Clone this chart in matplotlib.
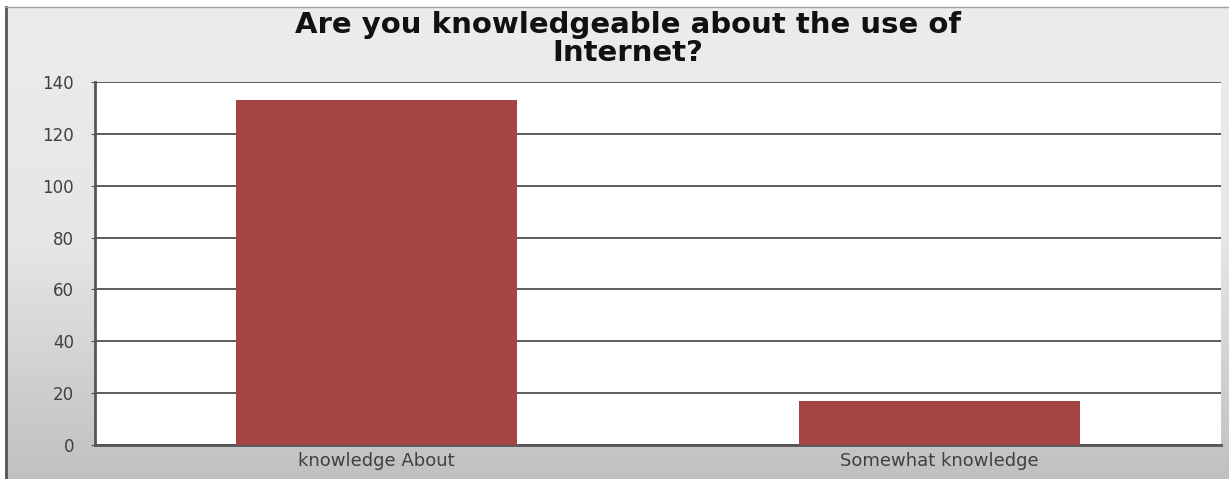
import matplotlib
matplotlib.use("Agg")
import matplotlib.pyplot as plt
import numpy as np
from matplotlib.lines import Line2D

categories = ["knowledge About", "Somewhat knowledge"]
counts = [133, 17]
y_ticks = [0, 20, 40, 60, 80, 100, 120, 140]
title = "Are you knowledgeable about the use of\nInternet?"

W, H = 1229, 479
fig = plt.figure(figsize=(W / 100, H / 100), dpi=100)
fig.patch.set_facecolor("white")

# Gray gradient chart background, framed on the left and top
bg = fig.add_axes([5 / W, 0, 1 - 5 / W, 1 - 7 / H], zorder=0)
grad = np.linspace(0, 1, 256).reshape(-1, 1)
bg.imshow(grad, aspect="auto", cmap=matplotlib.colors.LinearSegmentedColormap.from_list(
    "bg", ["#ececec", "#e6e6e6", "#c0c0c0"]), extent=[0, 1, 0, 1], origin="upper")
bg.set_axis_off()
fig.add_artist(Line2D([5.5 / W, 5.5 / W], [0, 1 - 7 / H], color="#555555", lw=2))
fig.add_artist(Line2D([5 / W, 1], [1 - 7 / H, 1 - 7 / H], color="#a0a0a0", lw=1))

ax = fig.add_axes([95 / W, 1 - 445 / H, (1221 - 95) / W, (445 - 82) / H], zorder=2)
ax.set_facecolor("white")
x = np.arange(len(categories))
ax.bar(x, counts, width=0.5, color="#a54543", zorder=3)
ax.set_xlim(-0.5, len(categories) - 0.5)
ax.set_ylim(0, 140)
ax.set_yticks(y_ticks)
ax.set_yticklabels([str(v) for v in y_ticks])
ax.set_xticks(x)
ax.set_xticklabels(categories)
ax.yaxis.grid(True, color="#404040", lw=1.2, zorder=1)
ax.set_axisbelow(True)
for s in ["top", "right"]:
    ax.spines[s].set_visible(False)
ax.spines["left"].set_color("#555555")
ax.spines["left"].set_linewidth(2)
ax.spines["bottom"].set_color("#555555")
ax.spines["bottom"].set_linewidth(2)
ax.tick_params(axis="y", length=3, color="#555555", pad=12, labelsize=12, labelcolor="#404040")
ax.tick_params(axis="x", length=0, pad=5, labelsize=13, labelcolor="#404040")

fig.text(628 / W, 1 - 39 / H, title, ha="center", va="center", fontsize=21,
         fontweight="bold", color="#111111", linespacing=1.0, zorder=5)

fig.savefig("out.png", dpi=100)
